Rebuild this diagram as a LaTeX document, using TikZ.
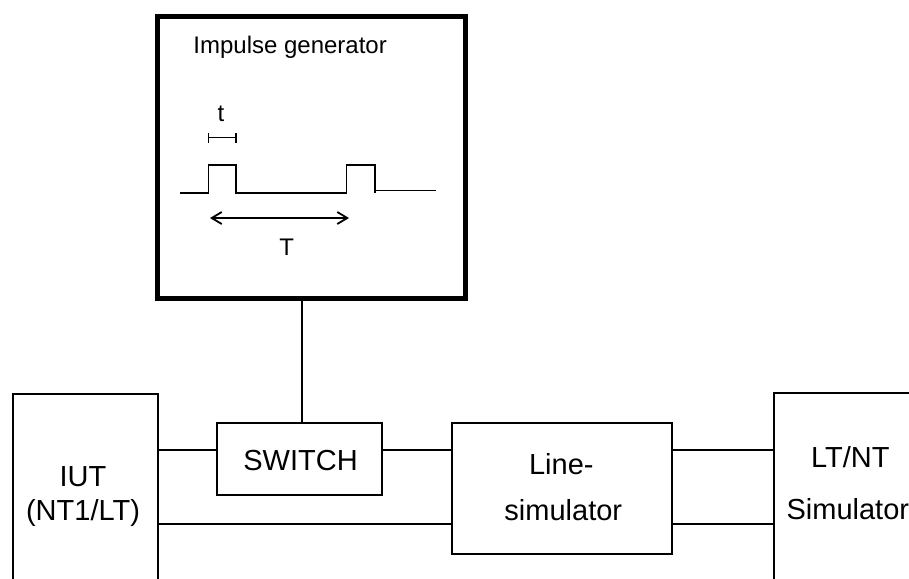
\documentclass[tikz,border=0pt]{standalone}
\usepackage{fontspec}
\setmainfont{Liberation Sans}
\usetikzlibrary{arrows.meta}
\begin{document}
\begin{tikzpicture}[x=0.5pt,y=-0.5pt,
  box/.style={draw, line width=1pt, inner sep=0pt, anchor=north west},
  genbox/.style={draw, line width=2.3pt, inner sep=0pt, anchor=north west},
  wire/.style={line width=1pt},
  big/.style={font=\fontsize{14.5}{17}\selectfont, inner sep=0pt, anchor=base},
  small/.style={font=\fontsize{12}{14}\selectfont, inner sep=0pt, anchor=base},
  pulse/.style={line width=0.7pt},
  dimarrow/.style={line width=0.9pt, {Straight Barb[length=5pt,width=6pt]}-{Straight Barb[length=5pt,width=6pt]}}]
\useasboundingbox (0,0) rectangle (909,578);
\clip (0,0) rectangle (909,578);
% boxes
\node[genbox, minimum width=154pt, minimum height=141pt] (gen) at (155,14) {};
\node[box, minimum width=82.5pt, minimum height=36.3pt] (sw) at (216,421.7) {};
\node[box, minimum width=109.85pt, minimum height=65.8pt] (ls) at (451,421.7) {};
\node[box, minimum width=72.8pt, minimum height=130pt] (iut) at (11.7,392.7) {};
\node[box, minimum width=120pt, minimum height=130pt] (lt) at (773.3,392.3) {};
% texts
\node[small, anchor=base west] (genlbl) at (193,54) {Impulse generator};
\node[small] (tlbl) at (221,121.5) {t};
\node[small] (Tlbl) at (286.7,255.5) {T};
\node[big] (swlbl) at (300.5,470) {SWITCH};
\node[big] (iut1) at (83,486) {IUT};
\node[big] (iut2) at (83,520) {(NT1/LT)};
\node[big] (ls1) at (561.3,474.3) {Line-};
\node[big] (ls2) at (563.3,520) {simulator};
\node[big] (lt1) at (850.3,467.3) {LT/NT};
\node[big] (lt2) at (847.8,519) {Simulator};
% pulse waveform
\draw[pulse] (180,193) -- (208.7,193) -- (208.7,165) -- (236,165) -- (236,193)
  -- (346.7,193) -- (346.7,165) -- (375,165) -- (375,193);
\draw[pulse] (375,190.7) -- (435.7,190.7);
% t marker
\draw[line width=0.6pt] (208.7,137.7) -- (236,137.7);
\draw[line width=0.6pt] (208.7,133) -- (208.7,143);
\draw[line width=0.6pt] (236,133) -- (236,143);
% T arrow
\draw[dimarrow] (210,218) -- (349,218);
% connectors
\coordinate (stem) at (301.7,0);
\coordinate (up) at (0,450.3);
\coordinate (lo) at (0,524);
\draw[wire] (gen.south -| stem) -- (sw.north -| stem);
\draw[wire] (iut.east |- up) -- (sw.west |- up);
\draw[wire] (sw.east |- up) -- (ls.west |- up);
\draw[wire] (iut.east |- lo) -- (ls.west |- lo);
\draw[wire] (ls.east |- up) -- (lt.west |- up);
\draw[wire] (ls.east |- lo) -- (lt.west |- lo);
\end{tikzpicture}
\end{document}
